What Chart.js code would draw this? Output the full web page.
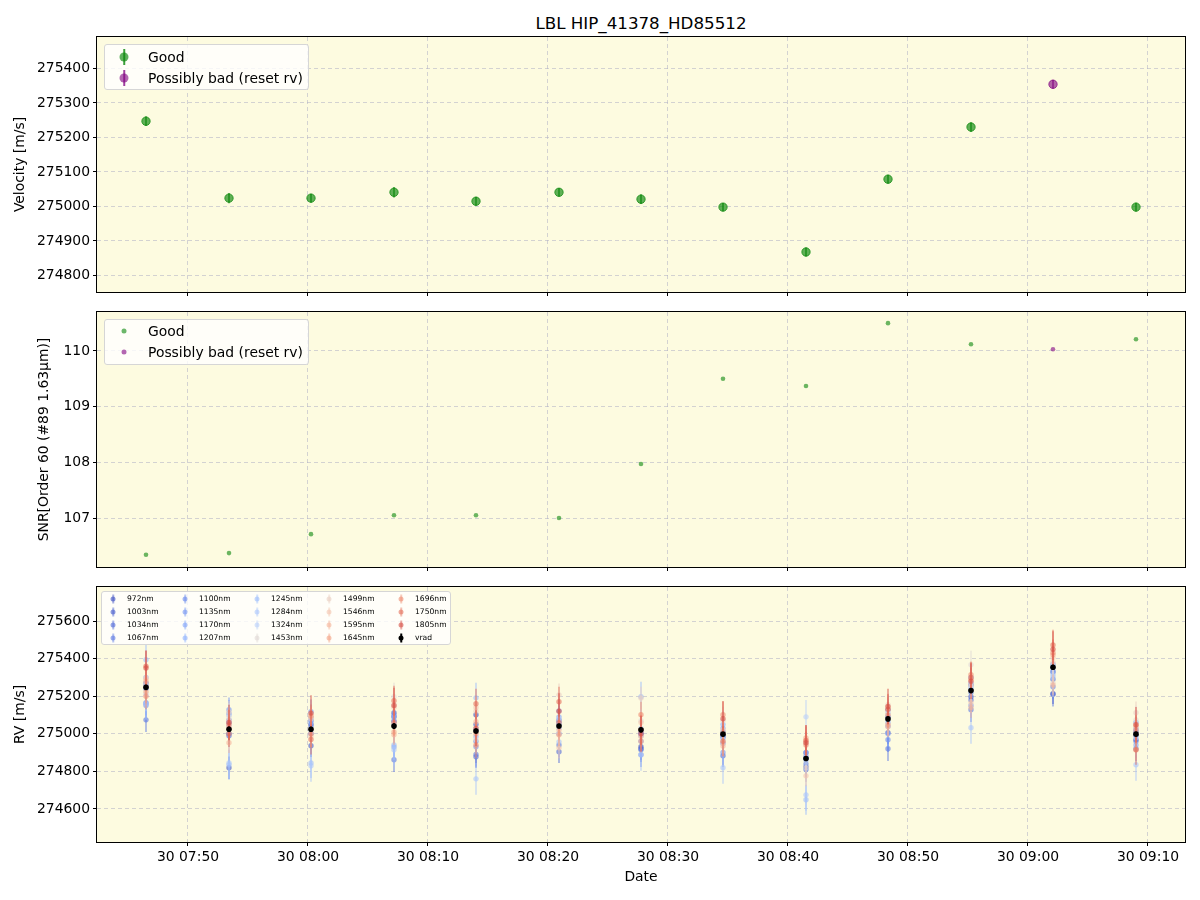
<!DOCTYPE html>
<html lang="en">
<head>
<meta charset="UTF-8">
<title>LBL HIP_41378_HD85512</title>
<script src="https://cdn.jsdelivr.net/npm/chart.js"></script>
<style>
  body { margin: 0; background: #fff; font-family: 'DejaVu Sans', sans-serif; }
  #wrap { position: relative; width: 1200px; height: 900px; overflow: hidden; }
  #wrap canvas { position: absolute; left: 0; }
  .title { position: absolute; left: 97px; width: 1088px; top: 13px; text-align: center; font-size: 16.7px; line-height: 20px; color: #000; }
  .legend { position: absolute; background: rgba(255,255,255,0.8); border: 1px solid #d6d6d6; border-radius: 3px; box-sizing: border-box; z-index: 5; }
  .legend .txt { position: absolute; transform: translateY(-50%); white-space: nowrap; color: #000; line-height: 1.2; }
  .legend .dot { position: absolute; border-radius: 50%; transform: translate(-50%, -50%); }
  .legend .bar { position: absolute; transform: translate(-50%, -50%); }
</style>
</head>
<body>
<div id="wrap">
  <div class="title">LBL HIP_41378_HD85512</div>
  <canvas id="velChart" width="1200" height="270" style="top:30px"></canvas>
  <canvas id="snrChart" width="1200" height="270" style="top:305px"></canvas>
  <canvas id="rvChart" width="1200" height="320" style="top:580px"></canvas>
  <div class="legend" id="legVel" style="left:104px;top:44px;width:205px;height:46px"></div>
  <div class="legend" id="legSnr" style="left:104px;top:319px;width:205px;height:46px"></div>
  <div class="legend" id="legRv" style="left:101px;top:591px;width:350px;height:54px"></div>
</div>

<script>
// observation times (30th, UT)
const times = ['07:46:30', '07:53:25', '08:00:15', '08:07:10', '08:14:00', '08:20:55', '08:27:45',
               '08:34:35', '08:41:30', '08:48:20', '08:55:15', '09:02:05', '09:09:00'];
const flags = ['good', 'good', 'good', 'good', 'good', 'good', 'good',
               'good', 'good', 'good', 'good', 'bad', 'good'];

const velocity = [275247, 275024, 275024, 275041, 275015, 275041, 275021, 274998, 274868, 275079, 275230, 275354, 274998];
const velocityErr = [14, 15, 13, 15, 13, 12, 14, 12, 13, 13, 14, 13, 13];
const snr = [106.34, 106.37, 106.71, 107.05, 107.05, 107.00, 107.97, 109.50, 109.37, 110.50, 110.12, 110.03, 110.21];

const wavelengths = [972, 1003, 1034, 1067, 1100, 1135, 1170, 1207, 1245, 1284, 1324, 1453, 1499, 1546, 1595, 1645, 1696, 1750, 1805];
const rv972  = [275255, 275000, 275050, 275090, 275101, 275060, 274931, 274990, 274824, 275128, 275260, 275213, 274968];
const rv1003 = [275270, 274819, 274936, 275112, 275050, 275074, 274920, 275010, 274899, 275005, 275197, 275330, 275010];
const rv1034 = [275240, 274990, 275070, 275064, 274878, 274904, 275000, 274883, 274870, 275090, 275180, 275290, 274990];
const rv1067 = [275074, 275060, 275000, 274862, 274890, 274940, 274915, 274980, 274810, 274920, 275128, 275210, 274920];
const rv1100 = [275165, 275074, 275040, 275100, 274960, 275000, 274888, 274950, 274840, 274968, 275220, 275250, 274960];
const rv1135 = [275150, 275128, 275117, 275070, 274931, 275122, 274960, 274900, 274880, 275040, 275150, 275370, 275060];
const rv1170 = [275160, 275110, 275085, 274930, 275020, 275090, 275010, 275030, 274900, 275000, 275300, 275330, 274940];
const rv1207 = [275300, 275100, 275060, 275090, 274985, 275050, 274990, 275050, 274860, 275060, 275240, 275350, 275020];
const rv1245 = [275394, 274835, 274845, 274941, 275191, 275030, 275197, 274990, 274649, 275110, 275270, 275314, 275030];
const rv1284 = [275160, 274845, 274830, 274915, 274760, 274957, 274888, 274819, 274675, 275090, 275032, 275300, 274835];
const rv1324 = [275210, 275040, 275010, 275050, 275030, 275080, 275030, 274970, 275090, 275070, 275250, 275360, 274980];
const rv1453 = [275260, 275090, 275105, 275197, 274970, 275000, 275069, 275069, 274820, 275120, 275367, 275271, 275074];
const rv1499 = [275300, 275115, 275080, 275154, 275120, 275207, 275190, 274952, 274950, 275154, 275260, 275380, 275112];
const rv1546 = [275290, 275070, 274985, 275140, 275140, 274925, 275060, 275020, 274776, 275140, 275165, 275404, 275050];
const rv1595 = [275280, 274952, 275090, 274995, 275064, 275020, 274985, 274935, 274960, 275037, 275140, 275260, 274915];
const rv1645 = [275223, 275030, 275096, 275010, 275000, 274995, 274960, 275000, 274978, 275050, 275290, 275420, 275040];
const rv1696 = [275200, 275000, 275000, 275060, 274940, 275060, 275101, 275101, 274940, 275100, 275314, 275431, 275020];
const rv1750 = [275360, 275048, 274970, 275176, 275160, 275170, 275020, 274960, 274965, 275130, 275300, 275473, 274915];
const rv1805 = [275350, 275060, 275110, 275150, 275030, 275120, 275000, 275080, 274952, 275145, 275280, 275450, 275048];
const waveRV = [rv972, rv1003, rv1034, rv1067, rv1100, rv1135, rv1170, rv1207, rv1245, rv1284,
                rv1324, rv1453, rv1499, rv1546, rv1595, rv1645, rv1696, rv1750, rv1805];
const waveErr = [55, 60, 60, 65, 65, 65, 70, 70, 80, 85, 90, 75, 60, 55, 55, 60, 70, 80, 95];

const xTicks = ['07:50', '08:00', '08:10', '08:20', '08:30', '08:40', '08:50', '09:00', '09:10'];
const xRange = ['07:42:25', '09:13:05'];
const velTicks = [274800, 274900, 275000, 275100, 275200, 275300, 275400];
const velRange = [274752, 275491];
const snrTicks = [107, 108, 109, 110];
const snrRange = [106.12, 110.70];
const rvTicks = [274600, 274800, 275000, 275200, 275400, 275600];
const rvRange = [274424, 275781];

// ---------------------------------------------------------------

const toMin = s => { const [h, m, sec = 0] = s.split(':').map(Number); return h * 60 + m + sec / 60; };
const fmtTime = v => {
    const h = Math.floor(v / 60), m = Math.round(v - h * 60);
    return String(h).padStart(2, '0') + ':' + String(m).padStart(2, '0');
};

const coolwarm = [[0, 59, 76, 192], [0.125, 98, 130, 234], [0.25, 141, 176, 254], [0.375, 184, 208, 249],
                  [0.5, 221, 221, 221], [0.625, 245, 196, 173], [0.75, 244, 154, 123], [0.875, 222, 96, 77], [1, 180, 4, 38]];
function cw(t, a) {
    for (let k = 1; k < coolwarm.length; k++) {
        if (t <= coolwarm[k][0]) {
            const p = coolwarm[k - 1], q = coolwarm[k];
            const f = (t - p[0]) / (q[0] - p[0]);
            const c = [1, 2, 3].map(j => Math.round(p[j] + f * (q[j] - p[j])));
            return `rgba(${c[0]},${c[1]},${c[2]},${a})`;
        }
    }
    return `rgba(180,4,38,${a})`;
}

const GREEN = a => `rgba(10,135,10,${a})`;
const PURPLE = a => `rgba(128,0,128,${a})`;
const gridColor = 'rgba(176,176,196,0.55)';

Chart.defaults.font.family = "'DejaVu Sans', sans-serif";
Chart.defaults.font.size = 13.9;
Chart.defaults.color = '#000';

const frame = {
    id: 'frame',
    beforeDraw(chart) {
        const a = chart.chartArea, ctx = chart.ctx;
        ctx.save();
        ctx.fillStyle = 'rgb(253,251,224)';
        ctx.fillRect(a.left, a.top, a.right - a.left, a.bottom - a.top);
        ctx.restore();
    },
    afterDraw(chart) {
        const a = chart.chartArea, ctx = chart.ctx;
        ctx.save();
        ctx.strokeStyle = '#000';
        ctx.lineWidth = 1;
        ctx.strokeRect(a.left - 0.5, a.top - 0.5, a.right - a.left + 1, a.bottom - a.top + 1);
        ctx.restore();
    }
};

const errorBars = {
    id: 'errorBars',
    beforeDatasetDraw(chart, args) {
        const ds = chart.data.datasets[args.index];
        if (!ds.errorColor) return;
        const ctx = chart.ctx, xs = chart.scales.x, ys = chart.scales.y, a = chart.chartArea;
        ctx.save();
        ctx.beginPath();
        ctx.rect(a.left, a.top, a.right - a.left, a.bottom - a.top);
        ctx.clip();
        ctx.strokeStyle = ds.errorColor;
        ctx.lineWidth = ds.errorWidth || 1.5;
        ds.data.forEach(p => {
            if (!p.e) return;
            const x = xs.getPixelForValue(p.x);
            ctx.beginPath();
            ctx.moveTo(x, ys.getPixelForValue(p.y - p.e));
            ctx.lineTo(x, ys.getPixelForValue(p.y + p.e));
            ctx.stroke();
        });
        ctx.restore();
    }
};

function pts(vals, errs, keep) {
    const out = [];
    vals.forEach((v, i) => { if (keep(i)) out.push({ x: toMin(times[i]), y: v, e: errs ? errs[i] : 0 }); });
    return out;
}

function xScale(showLabels) {
    return {
        type: 'linear',
        min: toMin(xRange[0]),
        max: toMin(xRange[1]),
        afterBuildTicks: s => { s.ticks = xTicks.map(t => ({ value: toMin(t) })); },
        afterFit: s => { s.height = showLabels ? 58 : 8; s.paddingLeft = 0; s.paddingRight = 0; s.paddingTop = 0; s.paddingBottom = 0; },
        ticks: { display: showLabels, autoSkip: false, maxRotation: 0, padding: 3.5, callback: v => '30 ' + fmtTime(v) },
        grid: { color: gridColor, tickColor: '#000', tickLength: 4, lineWidth: 1 },
        border: { display: false, dash: [4, 3] },
        title: { display: showLabels, text: 'Date', padding: { top: 0, bottom: 14.7 } }
    };
}

function yScale(range, tickList, label, titlePad) {
    return {
        type: 'linear',
        min: range[0],
        max: range[1],
        afterBuildTicks: s => { s.ticks = tickList.map(v => ({ value: v })); },
        afterFit: s => { s.width = 97; s.paddingTop = 0; s.paddingBottom = 0; s.paddingLeft = 0; s.paddingRight = 0; },
        ticks: { padding: 3, callback: v => String(v) },
        grid: { color: gridColor, tickColor: '#000', tickLength: 4, lineWidth: 1 },
        border: { display: false, dash: [4, 3] },
        title: { display: true, text: label, padding: { top: titlePad, bottom: 0 } }
    };
}

function makeChart(id, datasets, y, showX) {
    return new Chart(document.getElementById(id), {
        type: 'scatter',
        data: { datasets: datasets },
        options: {
            responsive: false,
            animation: false,
            events: [],
            layout: { padding: { top: 7, right: 15, left: 0, bottom: 0 } },
            plugins: { legend: { display: false }, tooltip: { enabled: false } },
            scales: { x: xScale(showX), y: y }
        },
        plugins: [frame, errorBars]
    });
}

const isGood = i => flags[i] === 'good';
const isBad = i => flags[i] === 'bad';

// --- panel 1 : velocity
const velSets = [
    { label: 'Good', data: pts(velocity, velocityErr, isGood), pointRadius: 4.2, borderWidth: 1,
      backgroundColor: GREEN(0.65), borderColor: GREEN(0.7), errorColor: GREEN(0.8), errorWidth: 1.5 },
    { label: 'Possibly bad (reset rv)', data: pts(velocity, velocityErr, isBad), pointRadius: 4.2, borderWidth: 1,
      backgroundColor: PURPLE(0.6), borderColor: PURPLE(0.65), errorColor: PURPLE(0.75), errorWidth: 1.5 }
];
makeChart('velChart', velSets, yScale(velRange, velTicks, 'Velocity [m/s]', 11.7), false);

// --- panel 2 : SNR
const snrSets = [
    { label: 'Good', data: pts(snr, null, isGood), pointRadius: 2.3, borderWidth: 0, backgroundColor: GREEN(0.6) },
    { label: 'Possibly bad (reset rv)', data: pts(snr, null, isBad), pointRadius: 2.3, borderWidth: 0, backgroundColor: PURPLE(0.6) }
];
makeChart('snrChart', snrSets, yScale(snrRange, snrTicks, 'SNR[Order 60 (#89 1.63μm)]', 35.7), false);

// --- panel 3 : per-wavelength RV
const wMin = wavelengths[0], wMax = wavelengths[wavelengths.length - 1];
const rvSets = wavelengths.map((w, i) => {
    const t = (w - wMin) / (wMax - wMin) * 0.9;
    return {
        label: w + 'nm', data: pts(waveRV[i], waveErr.map(() => waveErr[i]), () => true),
        pointRadius: 2.7, borderWidth: 0, backgroundColor: cw(t, 0.6),
        errorColor: cw(t, 0.45), errorWidth: 2, order: 100 - i
    };
});
rvSets.push({ label: 'vrad', data: pts(velocity, velocityErr, () => true), pointRadius: 2.8, borderWidth: 0,
              backgroundColor: '#000', errorColor: '#000', errorWidth: 2, order: 0 });
makeChart('rvChart', rvSets, yScale(rvRange, rvTicks, 'RV [m/s]', 11.7), true);

// --- legends (drawn as html boxes inside the axes)
function buildLegend(id, sets, o) {
    const box = document.getElementById(id);
    sets.forEach((ds, k) => {
        const col = Math.floor(k / o.rows), row = k % o.rows;
        const mx = o.mx + col * o.colW, my = o.y0 + row * o.rowH;
        if (o.bar && ds.errorColor) {
            const b = document.createElement('div');
            b.className = 'bar';
            b.style.cssText = `left:${mx}px;top:${my}px;width:${o.barW}px;height:${o.bar}px;background:${ds.errorColor}`;
            box.appendChild(b);
        }
        const d = document.createElement('div');
        d.className = 'dot';
        d.style.cssText = `left:${mx}px;top:${my}px;width:${o.dot}px;height:${o.dot}px;background:${ds.backgroundColor}`;
        box.appendChild(d);
        const t = document.createElement('div');
        t.className = 'txt';
        t.textContent = ds.label;
        t.style.cssText = `left:${o.tx + col * o.colW}px;top:${my}px;font-size:${o.font}px`;
        box.appendChild(t);
    });
}
buildLegend('legVel', velSets, { rows: 2, colW: 0, mx: 19, tx: 43, y0: 12, rowH: 21, dot: 9, bar: 16, barW: 1.5, font: 13.9 });
buildLegend('legSnr', snrSets, { rows: 2, colW: 0, mx: 19, tx: 43, y0: 11, rowH: 21, dot: 5, bar: 0, barW: 0, font: 13.9 });
buildLegend('legRv', rvSets, { rows: 4, colW: 72, mx: 11, tx: 25, y0: 7, rowH: 13, dot: 5, bar: 9, barW: 1.5, font: 7.6 });
</script>
</body>
</html>
